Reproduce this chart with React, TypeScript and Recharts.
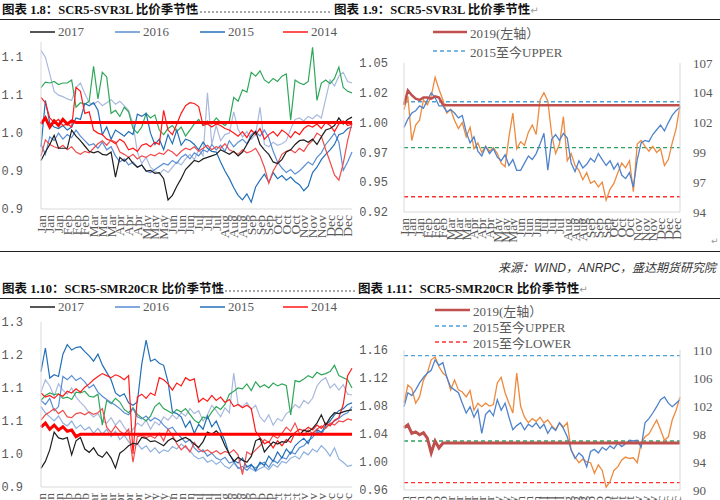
import React from 'react';
import { LineChart, Line, XAxis, YAxis, ReferenceLine } from 'recharts';

// ---------- categories ----------
const MONTHS = ['Jan', 'Feb', 'Mar', 'Apr', 'May', 'Jun', 'Jul', 'Aug', 'Sep', 'Oct', 'Nov', 'Dec'];
const PER_MONTH = 6;
const DAYS = MONTHS.flatMap((m) => Array.from({ length: PER_MONTH }, () => m));

// ---------- SCR5-SVR3L ratio, by year ----------
const SVR_2017 = [
  0.964, 0.975, 0.985, 0.997, 0.980, 0.980, 0.980, 1.004, 0.996, 0.990,
  0.983, 0.976, 0.974, 0.976, 0.972, 0.971, 0.975, 0.942, 0.968, 0.963,
  0.968, 0.960, 0.955, 0.958, 0.950, 0.951, 0.947, 0.948, 0.940, 0.912,
  0.918, 0.930, 0.940, 0.952, 0.958, 0.964, 0.962, 0.966, 0.968, 0.970,
  0.972, 0.978, 0.975, 0.972, 0.976, 0.970, 0.975, 0.985, 0.995, 1.002,
  0.985, 0.978, 0.972, 0.962, 0.960, 0.965, 0.975, 0.978, 0.985, 0.990,
  0.991, 0.988, 0.992, 0.985, 0.995, 1.004, 1.006, 1.010, 1.020, 1.012,
  1.018, 1.021,
];
const SVR_2016 = [
  0.985, 0.972, 0.995, 0.990, 1.000, 0.992, 0.998, 0.994, 1.004, 0.996,
  0.990, 0.984, 0.986, 0.980, 0.988, 0.978, 0.982, 0.970, 0.962, 0.966,
  0.958, 0.962, 0.955, 0.958, 0.950, 0.948, 0.952, 0.956, 0.960, 0.958,
  0.964, 0.960, 0.968, 0.972, 0.966, 0.974, 0.970, 0.978, 0.975, 0.985,
  0.978, 0.984, 0.976, 0.990, 0.982, 0.988, 0.992, 0.986, 0.998, 1.002,
  0.996, 1.004, 0.994, 0.976, 0.962, 0.954, 0.948, 0.952, 0.946, 0.950,
  0.956, 0.962, 0.958, 0.968, 0.974, 0.985, 0.992, 1.000, 0.988, 0.951,
  0.962, 0.975,
];
const SVR_2015 = [
  0.982, 1.043, 1.013, 1.008, 1.006, 1.010, 1.004, 1.008, 1.020, 1.018,
  1.039, 1.036, 1.040, 1.030, 0.998, 1.008, 0.992, 1.004, 1.000, 0.996,
  1.002, 0.998, 1.025, 1.022, 1.026, 1.000, 0.985, 0.992, 0.978, 0.998,
  0.986, 1.004, 0.984, 0.992, 0.990, 0.985, 0.978, 0.988, 0.980, 0.976,
  0.975, 0.962, 0.950, 0.940, 0.928, 0.918, 0.912, 0.920, 0.909, 0.929,
  0.938, 0.946, 0.935, 0.948, 0.940, 0.944, 0.938, 0.942, 0.936, 0.932,
  0.924, 0.930, 0.948, 0.955, 0.965, 0.972, 0.978, 0.985, 0.998, 1.000,
  1.006, 1.008,
];
const SVR_2014 = [
  1.047, 1.040, 1.020, 1.014, 1.018, 1.010, 1.012, 1.008, 1.060, 1.055,
  1.026, 1.028, 1.004, 1.000, 0.998, 0.992, 0.990, 0.986, 0.992, 0.988,
  0.978, 0.980, 0.976, 0.984, 0.986, 0.982, 0.988, 0.985, 1.030, 1.004,
  0.998, 1.012, 1.026, 1.036, 1.040, 1.039, 1.035, 1.010, 1.012, 1.008,
  1.012, 1.010, 1.006, 1.004, 1.000, 0.996, 1.002, 0.994, 1.004, 0.998,
  1.006, 0.992, 0.998, 1.002, 0.996, 1.004, 1.000, 0.994, 1.002, 0.998,
  1.006, 1.010, 1.008, 1.012, 1.006, 1.014, 1.010, 1.002, 1.012, 1.016,
  1.010, 1.012,
];
const SVR_2013 = [
  1.109, 1.100, 1.078, 1.055, 1.050, 1.048, 1.045, 1.043, 1.060, 1.066,
  1.052, 1.040, 1.038, 1.042, 1.036, 1.040, 1.044, 1.038, 1.042, 1.036,
  1.030, 1.012, 0.975, 0.960, 0.968, 0.955, 0.950, 0.946, 0.952, 0.948,
  0.955, 0.962, 0.958, 0.966, 0.972, 0.965, 0.978, 0.970, 1.053, 0.985,
  1.010, 0.990, 0.998, 1.000, 1.028, 1.005, 0.995, 1.002, 0.992, 0.998,
  1.034, 0.985, 0.982, 0.988, 0.984, 0.986, 0.990, 1.005, 1.018, 1.020,
  1.016, 1.022, 1.019, 1.024, 1.020, 1.045, 1.070, 1.062, 1.075, 1.080,
  1.068, 1.066,
];
const SVR_2018 = [
  1.060, 1.067, 1.066, 1.068, 1.064, 1.066, 1.066, 1.070, 1.034, 1.040,
  1.038, 1.042, 1.088, 1.045, 1.080, 1.074, 1.026, 1.030, 1.022, 1.034,
  1.028, 1.006, 1.000, 1.008, 1.026, 1.020, 1.024, 1.004, 0.998, 1.006,
  1.010, 1.002, 1.008, 0.996, 1.004, 1.012, 1.018, 1.010, 1.016, 1.012,
  1.020, 1.014, 1.010, 1.016, 1.047, 1.042, 1.057, 1.054, 1.080, 1.075,
  1.082, 1.070, 1.066, 1.072, 1.068, 1.075, 1.078, 1.017, 1.070, 1.066,
  1.064, 1.068, 1.113, 1.043, 1.066, 1.070, 1.065, 1.072, 1.087, 1.060,
  1.055, 1.053,
];
const SVR_2012 = [
  0.970, 0.991, 0.985, 0.982, 0.980, 0.984, 0.978, 0.982, 0.975, 0.972,
  0.976, 0.974, 0.980, 0.986, 0.990, 0.984, 0.991, 0.988, 0.975, 0.972,
  0.968, 0.972, 0.966, 0.970, 0.968, 0.972, 0.970, 0.974, 0.972, 0.978,
  0.975, 0.970, 0.976, 0.980, 0.978, 0.982, 0.976, 0.980, 0.984, 0.978,
  0.982, 0.980, 0.986, 0.978, 0.975, 0.972, 0.978, 0.974, 0.976, 0.980,
  0.970, 0.955, 0.934, 0.950, 0.960, 0.972, 0.976, 0.978, 0.974, 0.980,
  0.976, 0.985, 0.990, 1.000, 0.996, 0.978, 0.962, 0.945, 0.938, 0.960,
  0.990, 1.013,
];
const SVR_2019 = [
  1.012, 1.020, 1.008, 1.016, 1.010, 1.018, 1.012, 1.016, 1.014,
  1.014, 1.014, 1.014, 1.014, 1.014, 1.014, 1.014, 1.014, 1.014,
  1.014, 1.014, 1.014, 1.014, 1.014, 1.014, 1.014, 1.014, 1.014,
  1.014, 1.014, 1.014, 1.014, 1.014, 1.014, 1.014, 1.014, 1.014,
  1.014, 1.014, 1.014, 1.014, 1.014, 1.014, 1.014, 1.014, 1.014,
  1.014, 1.014, 1.014, 1.014, 1.014, 1.014, 1.014, 1.014, 1.014,
  1.014, 1.014, 1.014, 1.014, 1.014, 1.014, 1.014, 1.014, 1.014,
  1.014, 1.014, 1.014, 1.014, 1.014, 1.014, 1.014, 1.014, 1.014,
];

// ---------- SCR5-SVR3L 2019 vs. bands (left axis) and mean/latest (right axis) ----------
const SVR_BAND_2019 = [
  1.015, 1.027, 1.023, 1.020, 1.019, 1.021, 1.021, 1.020, 1.022, 1.021,
  1.015, 1.0145, 1.0145, 1.0145, 1.0145, 1.0145, 1.0145, 1.0145, 1.0145, 1.0145,
  1.0145, 1.0145, 1.0145, 1.0145, 1.0145, 1.0145, 1.0145, 1.0145, 1.0145, 1.0145,
  1.0145, 1.0145, 1.0145, 1.0145, 1.0145, 1.0145, 1.0145, 1.0145, 1.0145, 1.0145,
  1.0145, 1.0145, 1.0145, 1.0145, 1.0145, 1.0145, 1.0145, 1.0145, 1.0145, 1.0145,
  1.0145, 1.0145, 1.0145, 1.0145, 1.0145, 1.0145, 1.0145, 1.0145, 1.0145, 1.0145,
  1.0145, 1.0145, 1.0145, 1.0145, 1.0145, 1.0145, 1.0145, 1.0145, 1.0145, 1.0145,
  1.0145, 1.0145,
];
const SVR_ORANGE = [
  103.1, 104.2, 100.5, 101.8, 102.2, 103.9, 103.5, 104.2, 105.8, 104.8,
  103.9, 102.8, 103.1, 102.2, 101.5, 102.0, 100.8, 101.6, 99.8, 100.3,
  99.5, 100.0, 99.6, 99.9, 99.4, 98.6, 98.3, 100.8, 102.8, 99.8,
  100.4, 100.1, 101.2, 101.8, 101.0, 103.9, 104.5, 103.8, 101.0, 99.4,
  100.2, 102.5, 98.8, 99.4, 98.4, 98.0, 97.2, 97.8, 96.9, 97.1,
  96.6, 97.0, 95.5, 96.4, 96.9, 97.8, 98.6, 98.2, 98.8, 96.2,
  100.2, 100.5, 100.0, 99.6, 100.0, 99.5, 99.8, 98.4, 98.9, 100.3,
  101.5, 103.4,
];
const SVR_BLUE = [
  101.6, 102.3, 102.8, 103.0, 103.4, 103.2, 103.9, 104.5, 104.1, 103.4,
  103.4, 102.9, 103.1, 102.8, 102.4, 102.6, 101.2, 100.3, 100.8, 99.6,
  99.2, 100.0, 99.4, 99.8, 99.1, 98.8, 99.3, 98.4, 98.9, 98.0,
  98.0, 98.6, 99.2, 98.9, 99.4, 100.2, 101.1, 98.0, 100.6, 101.0,
  100.5, 101.1, 100.7, 98.6, 97.9, 98.8, 98.2, 98.5, 99.0, 98.7,
  99.4, 98.9, 98.4, 98.8, 98.1, 98.6, 97.6, 97.3, 97.8, 96.6,
  98.9, 100.3, 100.5, 100.4, 101.0, 101.4, 101.8, 101.3, 102.0, 102.6,
  103.0, 103.3,
];
const SVR_UPPER = 1.0175;
const SVR_MID = 0.979;
const SVR_LOWER = 0.9378;

// ---------- SCR5-SMR20CR ratio, by year ----------
const SMR_2017 = [
  0.945, 0.962, 0.990, 1.033, 1.019, 1.016, 1.020, 0.978, 1.012, 1.020,
  0.992, 0.984, 0.995, 0.978, 0.972, 0.985, 0.970, 0.946, 0.982, 0.990,
  1.000, 1.006, 1.004, 1.020, 1.018, 1.010, 1.012, 1.006, 1.000, 1.012,
  1.018, 1.010, 1.016, 1.020, 1.014, 1.004, 0.996, 1.010, 1.033, 1.028,
  1.036, 1.025, 1.000, 0.980, 0.962, 0.972, 0.965, 0.960, 0.974, 1.012,
  1.018, 0.985, 0.998, 1.009, 1.004, 1.010, 1.008, 1.022, 1.030, 1.026,
  1.038, 1.034, 1.042, 1.055, 1.075, 1.050, 1.068, 1.080, 1.078, 1.082,
  1.085, 1.087,
];
const SMR_2016 = [
  1.110, 1.100, 1.115, 1.085, 1.095, 1.168, 1.160, 1.170, 1.158, 1.165,
  1.155, 1.140, 1.148, 1.130, 1.120, 1.112, 1.105, 1.098, 1.090, 1.080,
  1.075, 1.090, 1.070, 1.065, 1.072, 1.060, 1.068, 1.062, 1.050, 1.040,
  1.045, 1.030, 1.020, 1.008, 1.015, 0.995, 0.985, 0.990, 0.975, 0.982,
  0.970, 0.965, 0.972, 0.958, 0.962, 0.945, 0.950, 0.940, 0.952, 0.946,
  0.955, 0.960, 0.948, 0.965, 0.958, 0.972, 0.968, 0.985, 0.980, 0.995,
  1.000, 1.012, 1.020, 1.035, 1.028, 1.045, 1.052, 1.060, 1.066, 1.075,
  1.080, 1.095,
];
const SMR_2015 = [
  1.180, 1.237, 1.164, 1.172, 1.168, 1.222, 1.245, 1.232, 1.238, 1.240,
  1.228, 1.218, 1.205, 1.222, 1.196, 1.178, 1.160, 1.128, 1.120, 1.126,
  1.104, 1.098, 1.106, 1.198, 1.256, 1.205, 1.210, 1.200, 1.195, 1.155,
  1.082, 1.078, 1.070, 1.045, 1.060, 1.030, 1.052, 1.040, 1.072, 1.046,
  1.060, 1.035, 1.012, 0.978, 0.965, 0.958, 0.970, 0.948, 0.955, 0.940,
  0.960, 0.952, 0.975, 0.962, 0.985, 0.970, 0.992, 0.980, 1.000, 1.010,
  1.018, 1.005, 1.030, 1.040, 1.032, 1.050, 1.060, 1.075, 1.085, 1.090,
  1.100, 1.104,
];
const SMR_2014 = [
  1.128, 1.118, 1.122, 1.115, 1.125, 1.120, 1.132, 1.128, 1.138, 1.130,
  1.142, 1.150, 1.160, 1.168, 1.175, 1.170, 1.165, 1.172, 1.168, 1.160,
  1.170, 0.980, 1.118, 1.125, 1.115, 1.128, 1.122, 1.165, 1.160, 1.150,
  1.135, 1.152, 1.145, 1.165, 1.158, 1.162, 1.106, 1.115, 1.108, 1.122,
  1.110, 1.118, 1.105, 1.112, 1.095, 1.100, 1.092, 1.098, 1.090, 1.035,
  1.020, 1.005, 1.010, 0.995, 1.012, 1.000, 1.015, 1.008, 1.032, 1.040,
  1.036, 1.045, 1.038, 1.050, 1.042, 1.055, 1.048, 1.062, 1.068, 1.100,
  1.170, 1.188,
];
const SMR_2013 = [
  1.130, 1.160, 1.145, 1.120, 1.150, 1.135, 1.125, 1.140, 1.118, 1.105,
  1.095, 1.080, 1.070, 1.078, 1.060, 1.055, 1.068, 1.050, 1.062, 1.045,
  1.030, 1.040, 1.055, 1.048, 1.062, 1.040, 1.058, 1.050, 1.070, 1.062,
  1.075, 1.065, 1.080, 1.072, 1.090, 1.078, 1.085, 1.060, 1.075, 1.098,
  1.085, 1.070, 1.092, 1.080, 1.176, 1.100, 1.095, 1.105, 1.088, 1.098,
  1.070, 1.058, 1.075, 1.050, 1.066, 1.060, 1.078, 1.085, 1.100, 1.092,
  1.110, 1.102, 1.115, 1.145, 1.158, 1.165, 1.140, 1.150, 1.135, 1.148,
  1.125, 1.123,
];
const SMR_2011 = [
  1.095, 1.080, 1.070, 1.060, 1.072, 1.055, 1.048, 1.060, 1.042, 1.050,
  1.038, 1.045, 1.030, 1.042, 1.028, 1.040, 1.022, 1.035, 1.015, 1.025,
  1.010, 0.998, 1.005, 0.992, 1.000, 0.985, 0.995, 0.982, 0.990, 0.986,
  0.998, 0.992, 1.004, 0.996, 0.988, 0.975, 0.968, 0.972, 0.960, 0.965,
  0.955, 0.962, 0.950, 0.945, 0.958, 0.948, 0.940, 0.952, 0.944, 0.938,
  0.945, 0.950, 0.942, 0.955, 0.948, 0.962, 0.958, 0.970, 0.975, 0.968,
  0.985, 0.978, 0.992, 0.985, 1.000, 0.990, 0.975, 0.995, 0.968, 0.960,
  0.950, 0.953,
];
const SMR_2018 = [
  1.110, 1.122, 1.128, 1.124, 1.126, 1.115, 1.118, 1.112, 1.130, 1.128,
  1.132, 1.120, 1.118, 1.125, 1.050, 1.110, 1.102, 1.115, 1.106, 1.088,
  1.080, 1.092, 1.076, 1.068, 1.060, 1.072, 1.095, 1.104, 1.090, 1.084,
  1.078, 1.088, 1.082, 1.090, 1.076, 1.062, 1.055, 1.070, 1.066, 1.082,
  1.095, 1.088, 1.100, 1.125, 1.132, 1.140, 1.138, 1.150, 1.134, 1.155,
  1.142, 1.148, 1.140, 1.152, 1.145, 1.150, 1.146, 1.075, 1.158, 1.155,
  1.162, 1.170, 1.165, 1.178, 1.172, 1.175, 1.180, 1.195, 1.170, 1.165,
  1.160, 1.140,
];
const SMR_2012 = [
  1.062, 1.075, 1.082, 1.090, 1.078, 1.086, 1.070, 1.068, 1.078, 1.080,
  1.075, 1.082, 1.076, 1.080, 1.090, 1.045, 1.032, 1.048, 1.035, 1.028,
  1.040, 0.960, 1.022, 1.025, 1.020, 1.024, 1.018, 1.030, 1.012, 1.040,
  1.025, 1.005, 0.990, 1.000, 0.985, 1.008, 0.992, 0.985, 0.990, 0.982,
  0.988, 0.980, 0.986, 0.982, 0.990, 0.978, 0.930, 0.985, 0.978, 0.990,
  1.000, 1.015, 1.008, 1.025, 1.018, 1.030, 1.045, 1.035, 1.055, 1.030,
  1.025, 1.038, 1.030, 1.040, 1.048, 1.042, 1.055, 1.050, 1.060, 1.058,
  1.065, 1.062,
];
const SMR_2019 = [
  1.045, 1.055, 1.040, 1.050, 1.038, 1.046, 1.035, 1.038, 1.022,
  1.028, 1.028, 1.028, 1.028, 1.028, 1.028, 1.028, 1.028, 1.028,
  1.028, 1.028, 1.028, 1.028, 1.028, 1.028, 1.028, 1.028, 1.028,
  1.028, 1.028, 1.028, 1.028, 1.028, 1.028, 1.028, 1.028, 1.028,
  1.028, 1.028, 1.028, 1.028, 1.028, 1.028, 1.028, 1.028, 1.028,
  1.028, 1.028, 1.028, 1.028, 1.028, 1.028, 1.028, 1.028, 1.028,
  1.028, 1.028, 1.028, 1.028, 1.028, 1.028, 1.028, 1.028, 1.028,
  1.028, 1.028, 1.028, 1.028, 1.028, 1.028, 1.028, 1.028, 1.028,
];

// ---------- SCR5-SMR20CR 2019 vs. bands ----------
const SMR_BAND_2019 = [
  1.049, 1.053, 1.041, 1.043, 1.039, 1.042, 1.034, 1.013, 1.030, 1.020,
  1.027, 1.027, 1.027, 1.027, 1.027, 1.027, 1.027, 1.027, 1.027, 1.027,
  1.027, 1.027, 1.027, 1.027, 1.027, 1.027, 1.027, 1.027, 1.027, 1.027,
  1.027, 1.027, 1.027, 1.027, 1.027, 1.027, 1.027, 1.027, 1.027, 1.027,
  1.027, 1.027, 1.027, 1.027, 1.027, 1.027, 1.027, 1.027, 1.027, 1.027,
  1.027, 1.027, 1.027, 1.027, 1.027, 1.027, 1.027, 1.027, 1.027, 1.027,
  1.027, 1.027, 1.027, 1.027, 1.027, 1.027, 1.027, 1.027, 1.027, 1.027,
  1.027, 1.027,
];
const SMR_ORANGE = [
  102.4, 105.0, 104.5, 102.4, 103.3, 105.7, 106.7, 108.6, 109.0, 107.6,
  106.7, 106.2, 104.3, 105.7, 104.3, 104.0, 103.3, 104.2, 101.4, 102.4,
  101.9, 102.4, 102.0, 102.2, 105.3, 106.1, 103.9, 102.4, 101.0, 106.7,
  102.0, 100.4, 99.6, 100.2, 99.8, 100.4, 99.6, 100.0, 99.2, 98.6,
  99.6, 99.0, 99.6, 95.7, 94.7, 93.9, 94.4, 94.0, 93.9, 92.4,
  93.6, 92.8, 90.4, 91.2, 92.8, 93.3, 94.3, 94.7, 94.5, 94.6,
  93.9, 96.7, 97.6, 98.0, 99.0, 100.0, 98.6, 97.1, 97.6, 100.0,
  101.4, 103.3,
];
const SMR_BLUE = [
  101.9, 103.9, 103.5, 104.3, 105.3, 106.1, 106.7, 107.1, 108.6, 107.8,
  108.2, 106.1, 104.7, 104.3, 103.9, 102.4, 101.0, 101.9, 100.4, 101.5,
  98.1, 100.8, 101.4, 100.6, 102.9, 101.4, 102.4, 100.4, 98.6, 99.2,
  99.6, 98.6, 99.4, 99.0, 99.6, 98.8, 99.4, 98.1, 99.0, 98.5,
  99.6, 98.8, 97.6, 95.7, 94.5, 95.3, 94.8, 93.3, 95.5, 95.8,
  95.3, 96.1, 95.7, 96.3, 95.9, 96.7, 96.2, 96.6, 97.1, 97.0,
  97.1, 96.1, 99.6, 100.2, 101.0, 101.9, 102.9, 103.3, 102.4, 101.9,
  102.4, 102.9,
];
const SMR_UPPER = 1.152;
const SMR_MID = 1.03;
const SMR_LOWER = 0.9705;

// ---------- axis ticks ----------
const SVR_TICKS = [0.9, 0.95, 1.0, 1.05, 1.1];
const SVR_TICK_LABELS = ['0.9', '0.9', '1.0', '1.1', '1.1'];
const SVR_BAND_TICKS = [0.925, 0.95, 0.975, 1.0, 1.025, 1.05];
const SVR_BAND_LABELS = ['0.92', '0.95', '0.97', '1.00', '1.02', '1.05'];
const SVR_RIGHT_TICKS = [94.5, 97, 99.5, 102, 104.5, 107];
const SVR_RIGHT_LABELS = ['94', '97', '99', '102', '104', '107'];
const SMR_TICKS = [0.9, 0.98, 1.06, 1.14, 1.22, 1.3];
const SMR_TICK_LABELS = ['0.9', '1.0', '1.1', '1.1', '1.2', '1.3'];
const SMR_BAND_TICKS = [0.96, 1.0, 1.04, 1.08, 1.12, 1.16];
const SMR_BAND_LABELS = ['0.96', '1.00', '1.04', '1.08', '1.12', '1.16'];
const SMR_RIGHT_TICKS = [90, 94, 98, 102, 106, 110];
const SMR_RIGHT_LABELS = ['90', '94', '98', '102', '106', '110'];

// ---------- styling ----------
const SERIF = '"Liberation Serif", "Noto Sans CJK SC", serif';
const MONO = '"Liberation Mono", monospace';
const AXIS_GRAY = '#d9d9d9';
const TEXT_GRAY = '#595959';

const C = {
  y2017: '#1e1e1e',
  y2016: '#5a8ed4',
  y2015: '#2370b8',
  y2014: '#ff1a1a',
  y2013: '#a9b9de',
  y2011: '#8fb0de',
  y2018: '#2fa75a',
  y2012: '#f24a4a',
  y2019: '#ff0000',
  band2019: '#c0504d',
  orange: '#ed8a3f',
  blue: '#4f83cc',
  upper: '#4ea0d6',
  mid: '#2ba35f',
  lower: '#ff3030',
};

const fmt = (ticks: number[], labels: string[]) => (v: number) => {
  const k = ticks.indexOf(v);
  return k >= 0 ? labels[k] : String(v);
};

const MonthTick = (props: any) => {
  const { x, y, payload } = props;
  return (
    <g transform={`translate(${x},${y})`}>
      <text transform="rotate(-90)" x={0} y={4.5} textAnchor="end" fill={TEXT_GRAY} fontSize={13.5} fontFamily={SERIF}>
        {payload.value}
      </text>
    </g>
  );
};

function LegendItem(props: { x: number; y: number; len: number; color: string; label: string; dashed?: boolean; thick?: number }) {
  const { x, y, len, color, label, dashed, thick } = props;
  return (
    <div style={{ position: 'absolute', left: x, top: y - 9, height: 18, display: 'flex', alignItems: 'center', whiteSpace: 'nowrap' }}>
      <svg width={len} height={6} style={{ display: 'block' }}>
        <line x1={0} y1={3} x2={len} y2={3} stroke={color} strokeWidth={thick ?? 1.5} strokeDasharray={dashed ? '4 3' : undefined} />
      </svg>
      <span style={{ marginLeft: 3, fontSize: 13, color: TEXT_GRAY, fontFamily: SERIF }}>{label}</span>
    </div>
  );
}

function Title(props: { x: number; y: number; text: string; mark?: boolean }) {
  return (
    <div
      style={{
        position: 'absolute', left: props.x, top: props.y, whiteSpace: 'nowrap',
        fontFamily: SERIF, fontWeight: 'bold', fontSize: 12.5, color: '#111', lineHeight: '16px',
      }}
    >
      {props.text}
      {props.mark ? <span style={{ fontWeight: 'normal', color: '#9a9a9a', fontSize: 10, fontFamily: '"DejaVu Sans"' }}>↵</span> : null}
    </div>
  );
}

const Leader = (props: { x1: number; x2: number; y: number }) => (
  <div style={{ position: 'absolute', left: props.x1, top: props.y, width: props.x2 - props.x1, borderBottom: '2px dotted #a8a8a8' }} />
);

const Rule = (props: { y: number }) => (
  <div style={{ position: 'absolute', left: 0, top: props.y, width: 720, height: 1.5, background: '#222' }} />
);

export default function App() {
  const svrRows = DAYS.map((d, i) => ({
    d,
    y2017: SVR_2017[i], y2016: SVR_2016[i], y2015: SVR_2015[i], y2014: SVR_2014[i],
    y2013: SVR_2013[i], y2018: SVR_2018[i], y2012: SVR_2012[i], y2019: SVR_2019[i],
  }));
  const svrBandRows = DAYS.map((d, i) => ({ d, y2019: SVR_BAND_2019[i], orange: SVR_ORANGE[i], blue: SVR_BLUE[i] }));
  const smrRows = DAYS.map((d, i) => ({
    d,
    y2017: SMR_2017[i], y2016: SMR_2016[i], y2015: SMR_2015[i], y2014: SMR_2014[i],
    y2013: SMR_2013[i], y2011: SMR_2011[i], y2018: SMR_2018[i], y2012: SMR_2012[i], y2019: SMR_2019[i],
  }));
  const smrBandRows = DAYS.map((d, i) => ({ d, y2019: SMR_BAND_2019[i], orange: SMR_ORANGE[i], blue: SMR_BLUE[i] }));

  const leftTick = { fill: TEXT_GRAY, fontSize: 12, fontFamily: MONO };
  const rightTick = { fill: TEXT_GRAY, fontSize: 13, fontFamily: SERIF };
  const thin = 1.2;

  const xAxis = (
    <XAxis dataKey="d" interval={1} tickSize={0} tickMargin={6} tick={MonthTick} axisLine={{ stroke: AXIS_GRAY }} height={40} />
  );

  return (
    <div style={{ position: 'absolute', left: 0, top: 0, width: 720, height: 500, overflow: 'hidden', background: '#fff' }}>
      {/* header row 1 */}
      <Title x={2} y={2} text="图表 1.8：SCR5-SVR3L 比价季节性" />
      <Leader x1={193} x2={330} y={11} />
      <Title x={334} y={2} text="图表 1.9：SCR5-SVR3L 比价季节性" mark />
      <Rule y={18.5} />

      {/* legends row 1 */}
      <LegendItem x={30} y={32} len={25} color={C.y2017} label="2017" />
      <LegendItem x={115} y={32} len={25} color={C.y2016} label="2016" />
      <LegendItem x={200} y={32} len={25} color={C.y2015} label="2015" />
      <LegendItem x={283} y={32} len={25} color={C.y2014} label="2014" />
      <LegendItem x={433} y={32} len={34} color={C.band2019} label="2019(左轴）" thick={2.5} />
      <LegendItem x={433} y={51} len={34} color={C.upper} label="2015至今UPPER" dashed />

      {/* SCR5-SVR3L by year */}
      <div style={{ position: 'absolute', left: 0, top: 20 }}>
        <LineChart width={360} height={229} data={svrRows} margin={{ top: 22, right: 8, left: 5, bottom: 0 }}>
          {xAxis}
          <YAxis domain={[0.9, 1.12]} ticks={SVR_TICKS} interval={0} tickFormatter={fmt(SVR_TICKS, SVR_TICK_LABELS)}
            tickSize={0} tickMargin={18} tickLine={false} axisLine={{ stroke: AXIS_GRAY }} tick={leftTick} width={36} />
          <Line dataKey="y2013" stroke={C.y2013} strokeWidth={thin} dot={false} isAnimationActive={false} />
          <Line dataKey="y2018" stroke={C.y2018} strokeWidth={thin} dot={false} isAnimationActive={false} />
          <Line dataKey="y2016" stroke={C.y2016} strokeWidth={thin} dot={false} isAnimationActive={false} />
          <Line dataKey="y2015" stroke={C.y2015} strokeWidth={thin} dot={false} isAnimationActive={false} />
          <Line dataKey="y2012" stroke={C.y2012} strokeWidth={thin} dot={false} isAnimationActive={false} />
          <Line dataKey="y2014" stroke={C.y2014} strokeWidth={thin} dot={false} isAnimationActive={false} />
          <Line dataKey="y2017" stroke={C.y2017} strokeWidth={thin} dot={false} isAnimationActive={false} />
          <Line dataKey="y2019" stroke={C.y2019} strokeWidth={3} dot={false} isAnimationActive={false} />
        </LineChart>
      </div>

      {/* SCR5-SVR3L 2019 vs bands */}
      <div style={{ position: 'absolute', left: 360, top: 20 }}>
        <LineChart width={360} height={232} data={svrBandRows} margin={{ top: 43, right: 4, left: 6, bottom: 0 }}>
          {xAxis}
          <YAxis yAxisId="left" domain={[0.925, 1.05]} ticks={SVR_BAND_TICKS} interval={0} tickFormatter={fmt(SVR_BAND_TICKS, SVR_BAND_LABELS)}
            tickSize={0} tickMargin={16} tickLine={false} axisLine={{ stroke: AXIS_GRAY }} tick={leftTick} width={38} />
          <YAxis yAxisId="right" orientation="right" domain={[94.5, 107]} ticks={SVR_RIGHT_TICKS} interval={0}
            tickFormatter={fmt(SVR_RIGHT_TICKS, SVR_RIGHT_LABELS)} tickSize={0} tickMargin={13} tickLine={false}
            axisLine={{ stroke: AXIS_GRAY }} tick={rightTick} width={36} />
          <ReferenceLine yAxisId="left" y={SVR_UPPER} stroke={C.upper} strokeWidth={1.3} strokeDasharray="4 3" />
          <ReferenceLine yAxisId="left" y={SVR_MID} stroke={C.mid} strokeWidth={1.3} strokeDasharray="4 3" />
          <ReferenceLine yAxisId="left" y={SVR_LOWER} stroke={C.lower} strokeWidth={1.3} strokeDasharray="4 3" />
          <Line yAxisId="right" dataKey="orange" stroke={C.orange} strokeWidth={1.3} dot={false} isAnimationActive={false} />
          <Line yAxisId="right" dataKey="blue" stroke={C.blue} strokeWidth={1.3} dot={false} isAnimationActive={false} />
          <Line yAxisId="left" dataKey="y2019" stroke={C.band2019} strokeWidth={2.5} dot={false} isAnimationActive={false} />
        </LineChart>
      </div>

      <Rule y={250.5} />
      <div style={{ position: 'absolute', left: 498, top: 258, whiteSpace: 'nowrap', fontStyle: 'italic', fontSize: 12, color: '#333', fontFamily: '"Liberation Sans", "Noto Sans CJK SC", sans-serif' }}>
        来源：WIND，ANRPC，盛达期货研究院
      </div>
      <div style={{ position: 'absolute', left: 711, top: 236, fontSize: 9, color: '#9a9a9a', fontFamily: '"DejaVu Sans"' }}>↵</div>

      {/* header row 2 */}
      <Title x={2} y={281} text="图表 1.10：SCR5-SMR20CR 比价季节性" />
      <Leader x1={216} x2={355} y={290} />
      <Title x={358} y={281} text="图表 1.11：SCR5-SMR20CR 比价季节性" mark />
      <Rule y={297.5} />

      {/* legends row 2 */}
      <LegendItem x={30} y={307} len={25} color={C.y2017} label="2017" />
      <LegendItem x={115} y={307} len={25} color={C.y2016} label="2016" />
      <LegendItem x={200} y={307} len={25} color={C.y2015} label="2015" />
      <LegendItem x={283} y={307} len={25} color={C.y2014} label="2014" />
      <LegendItem x={435} y={310} len={35} color={C.band2019} label="2019(左轴）" thick={2.5} />
      <LegendItem x={435} y={326} len={35} color={C.upper} label="2015至今UPPER" dashed />
      <LegendItem x={435} y={342} len={35} color={C.lower} label="2015至今LOWER" dashed />

      {/* SCR5-SMR20CR by year */}
      <div style={{ position: 'absolute', left: 0, top: 298 }}>
        <LineChart width={360} height={229} data={smrRows} margin={{ top: 24, right: 8, left: 5, bottom: 0 }}>
          {xAxis}
          <YAxis domain={[0.9, 1.3]} ticks={SMR_TICKS} interval={0} tickFormatter={fmt(SMR_TICKS, SMR_TICK_LABELS)}
            tickSize={0} tickMargin={18} tickLine={false} axisLine={{ stroke: AXIS_GRAY }} tick={leftTick} width={36} />
          <Line dataKey="y2013" stroke={C.y2013} strokeWidth={thin} dot={false} isAnimationActive={false} />
          <Line dataKey="y2011" stroke={C.y2011} strokeWidth={thin} dot={false} isAnimationActive={false} />
          <Line dataKey="y2018" stroke={C.y2018} strokeWidth={thin} dot={false} isAnimationActive={false} />
          <Line dataKey="y2016" stroke={C.y2016} strokeWidth={thin} dot={false} isAnimationActive={false} />
          <Line dataKey="y2015" stroke={C.y2015} strokeWidth={thin} dot={false} isAnimationActive={false} />
          <Line dataKey="y2012" stroke={C.y2012} strokeWidth={thin} dot={false} isAnimationActive={false} />
          <Line dataKey="y2014" stroke={C.y2014} strokeWidth={thin} dot={false} isAnimationActive={false} />
          <Line dataKey="y2017" stroke={C.y2017} strokeWidth={thin} dot={false} isAnimationActive={false} />
          <Line dataKey="y2019" stroke={C.y2019} strokeWidth={3} dot={false} isAnimationActive={false} />
        </LineChart>
      </div>

      {/* SCR5-SMR20CR 2019 vs bands */}
      <div style={{ position: 'absolute', left: 360, top: 298 }}>
        <LineChart width={360} height={232} data={smrBandRows} margin={{ top: 52, right: 4, left: 6, bottom: 0 }}>
          {xAxis}
          <YAxis yAxisId="left" domain={[0.96, 1.16]} ticks={SMR_BAND_TICKS} interval={0} tickFormatter={fmt(SMR_BAND_TICKS, SMR_BAND_LABELS)}
            tickSize={0} tickMargin={16} tickLine={false} axisLine={{ stroke: AXIS_GRAY }} tick={leftTick} width={38} />
          <YAxis yAxisId="right" orientation="right" domain={[90, 110]} ticks={SMR_RIGHT_TICKS} interval={0}
            tickFormatter={fmt(SMR_RIGHT_TICKS, SMR_RIGHT_LABELS)} tickSize={0} tickMargin={13} tickLine={false}
            axisLine={{ stroke: AXIS_GRAY }} tick={rightTick} width={36} />
          <ReferenceLine yAxisId="left" y={SMR_UPPER} stroke={C.upper} strokeWidth={1.3} strokeDasharray="4 3" />
          <ReferenceLine yAxisId="left" y={SMR_MID} stroke={C.mid} strokeWidth={1.3} strokeDasharray="4 3" />
          <ReferenceLine yAxisId="left" y={SMR_LOWER} stroke={C.lower} strokeWidth={1.3} strokeDasharray="4 3" />
          <Line yAxisId="right" dataKey="orange" stroke={C.orange} strokeWidth={1.3} dot={false} isAnimationActive={false} />
          <Line yAxisId="right" dataKey="blue" stroke={C.blue} strokeWidth={1.3} dot={false} isAnimationActive={false} />
          <Line yAxisId="left" dataKey="y2019" stroke={C.band2019} strokeWidth={3} dot={false} isAnimationActive={false} />
        </LineChart>
      </div>
    </div>
  );
}
